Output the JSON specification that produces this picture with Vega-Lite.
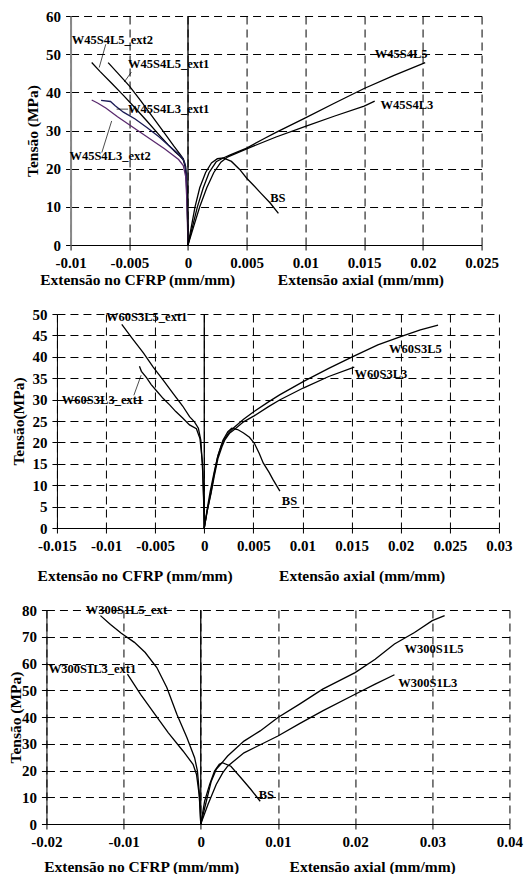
{
"$schema":"https://vega.github.io/schema/vega-lite/v6.json",
"background":"white",
"padding":{"top":9,"left":8,"right":5,"bottom":0},
"spacing":19,
"center":true,
"datasets":{
"curves":[
{"p":1,"s":"W45S4L5_ext2","i":0,"x":-0.0082,"y":47.8},{"p":1,"s":"W45S4L5_ext2","i":1,"x":-0.0075,"y":45.5},{"p":1,"s":"W45S4L5_ext2","i":2,"x":-0.0065,"y":42.4},{"p":1,"s":"W45S4L5_ext2","i":3,"x":-0.0055,"y":39.2},{"p":1,"s":"W45S4L5_ext2","i":4,"x":-0.0045,"y":35.9},{"p":1,"s":"W45S4L5_ext2","i":5,"x":-0.0035,"y":32.5},{"p":1,"s":"W45S4L5_ext2","i":6,"x":-0.0025,"y":29.0},{"p":1,"s":"W45S4L5_ext2","i":7,"x":-0.0017,"y":26.3},{"p":1,"s":"W45S4L5_ext2","i":8,"x":-0.0011,"y":24.4},{"p":1,"s":"W45S4L5_ext2","i":9,"x":-0.0007,"y":23.3},{"p":1,"s":"W45S4L5_ext2","i":10,"x":-0.0004,"y":22.3},{"p":1,"s":"W45S4L5_ext2","i":11,"x":-0.00025,"y":20.6},{"p":1,"s":"W45S4L5_ext2","i":12,"x":-0.00015,"y":17.5},{"p":1,"s":"W45S4L5_ext2","i":13,"x":-0.00008,"y":12},{"p":1,"s":"W45S4L5_ext2","i":14,"x":-0.00003,"y":6},{"p":1,"s":"W45S4L5_ext2","i":15,"x":0,"y":0},
{"p":1,"s":"W45S4L5_ext1","i":0,"x":-0.0068,"y":47.8},{"p":1,"s":"W45S4L5_ext1","i":1,"x":-0.006,"y":45.1},{"p":1,"s":"W45S4L5_ext1","i":2,"x":-0.005,"y":41.7},{"p":1,"s":"W45S4L5_ext1","i":3,"x":-0.004,"y":37.7},{"p":1,"s":"W45S4L5_ext1","i":4,"x":-0.003,"y":33.5},{"p":1,"s":"W45S4L5_ext1","i":5,"x":-0.002,"y":29.3},{"p":1,"s":"W45S4L5_ext1","i":6,"x":-0.0012,"y":25.9},{"p":1,"s":"W45S4L5_ext1","i":7,"x":-0.0007,"y":23.9},{"p":1,"s":"W45S4L5_ext1","i":8,"x":-0.0004,"y":22.6},{"p":1,"s":"W45S4L5_ext1","i":9,"x":-0.0002,"y":20.6},{"p":1,"s":"W45S4L5_ext1","i":10,"x":-0.0001,"y":16},{"p":1,"s":"W45S4L5_ext1","i":11,"x":-0.00004,"y":9},{"p":1,"s":"W45S4L5_ext1","i":12,"x":0,"y":0},
{"p":1,"s":"W45S4L3_ext1","i":0,"x":-0.0074,"y":37.9},{"p":1,"s":"W45S4L3_ext1","i":1,"x":-0.0066,"y":37.6},{"p":1,"s":"W45S4L3_ext1","i":2,"x":-0.0062,"y":36.5},{"p":1,"s":"W45S4L3_ext1","i":3,"x":-0.0055,"y":34.8},{"p":1,"s":"W45S4L3_ext1","i":4,"x":-0.0045,"y":33.0},{"p":1,"s":"W45S4L3_ext1","i":5,"x":-0.0035,"y":30.8},{"p":1,"s":"W45S4L3_ext1","i":6,"x":-0.0025,"y":28.4},{"p":1,"s":"W45S4L3_ext1","i":7,"x":-0.0015,"y":25.7},{"p":1,"s":"W45S4L3_ext1","i":8,"x":-0.0009,"y":24.1},{"p":1,"s":"W45S4L3_ext1","i":9,"x":-0.0005,"y":22.9},{"p":1,"s":"W45S4L3_ext1","i":10,"x":-0.0003,"y":21.7},{"p":1,"s":"W45S4L3_ext1","i":11,"x":-0.00015,"y":19},{"p":1,"s":"W45S4L3_ext1","i":12,"x":-0.00006,"y":12},{"p":1,"s":"W45S4L3_ext1","i":13,"x":0,"y":0},
{"p":1,"s":"W45S4L3_ext2","i":0,"x":-0.0082,"y":38.0},{"p":1,"s":"W45S4L3_ext2","i":1,"x":-0.0077,"y":37.2},{"p":1,"s":"W45S4L3_ext2","i":2,"x":-0.007,"y":35.9},{"p":1,"s":"W45S4L3_ext2","i":3,"x":-0.006,"y":33.6},{"p":1,"s":"W45S4L3_ext2","i":4,"x":-0.005,"y":31.5},{"p":1,"s":"W45S4L3_ext2","i":5,"x":-0.004,"y":29.4},{"p":1,"s":"W45S4L3_ext2","i":6,"x":-0.003,"y":27.3},{"p":1,"s":"W45S4L3_ext2","i":7,"x":-0.002,"y":25.2},{"p":1,"s":"W45S4L3_ext2","i":8,"x":-0.0013,"y":23.6},{"p":1,"s":"W45S4L3_ext2","i":9,"x":-0.0008,"y":22.4},{"p":1,"s":"W45S4L3_ext2","i":10,"x":-0.0004,"y":20.8},{"p":1,"s":"W45S4L3_ext2","i":11,"x":-0.0002,"y":18},{"p":1,"s":"W45S4L3_ext2","i":12,"x":-0.0001,"y":12},{"p":1,"s":"W45S4L3_ext2","i":13,"x":0,"y":0},
{"p":1,"s":"W45S4L5","i":0,"x":0,"y":0},{"p":1,"s":"W45S4L5","i":1,"x":0.0004,"y":5},{"p":1,"s":"W45S4L5","i":2,"x":0.0008,"y":10},{"p":1,"s":"W45S4L5","i":3,"x":0.0013,"y":15},{"p":1,"s":"W45S4L5","i":4,"x":0.0018,"y":19},{"p":1,"s":"W45S4L5","i":5,"x":0.0024,"y":21.8},{"p":1,"s":"W45S4L5","i":6,"x":0.003,"y":22.8},{"p":1,"s":"W45S4L5","i":7,"x":0.0036,"y":23.6},{"p":1,"s":"W45S4L5","i":8,"x":0.005,"y":25.4},{"p":1,"s":"W45S4L5","i":9,"x":0.0065,"y":27.9},{"p":1,"s":"W45S4L5","i":10,"x":0.0075,"y":29.5},{"p":1,"s":"W45S4L5","i":11,"x":0.01,"y":33.3},{"p":1,"s":"W45S4L5","i":12,"x":0.0125,"y":37.2},{"p":1,"s":"W45S4L5","i":13,"x":0.015,"y":41.0},{"p":1,"s":"W45S4L5","i":14,"x":0.0175,"y":44.4},{"p":1,"s":"W45S4L5","i":15,"x":0.0202,"y":47.8},
{"p":1,"s":"W45S4L3","i":0,"x":0,"y":0},{"p":1,"s":"W45S4L3","i":1,"x":0.0005,"y":5},{"p":1,"s":"W45S4L3","i":2,"x":0.001,"y":10},{"p":1,"s":"W45S4L3","i":3,"x":0.0016,"y":15},{"p":1,"s":"W45S4L3","i":4,"x":0.0022,"y":19},{"p":1,"s":"W45S4L3","i":5,"x":0.0028,"y":21.7},{"p":1,"s":"W45S4L3","i":6,"x":0.0034,"y":23.1},{"p":1,"s":"W45S4L3","i":7,"x":0.005,"y":25.2},{"p":1,"s":"W45S4L3","i":8,"x":0.0075,"y":28.3},{"p":1,"s":"W45S4L3","i":9,"x":0.01,"y":31.1},{"p":1,"s":"W45S4L3","i":10,"x":0.0125,"y":33.8},{"p":1,"s":"W45S4L3","i":11,"x":0.015,"y":36.4},{"p":1,"s":"W45S4L3","i":12,"x":0.0159,"y":37.7},
{"p":1,"s":"BS","i":0,"x":0,"y":0},{"p":1,"s":"BS","i":1,"x":0.0003,"y":5},{"p":1,"s":"BS","i":2,"x":0.0006,"y":10},{"p":1,"s":"BS","i":3,"x":0.001,"y":15},{"p":1,"s":"BS","i":4,"x":0.0015,"y":19},{"p":1,"s":"BS","i":5,"x":0.002,"y":21.5},{"p":1,"s":"BS","i":6,"x":0.0025,"y":22.6},{"p":1,"s":"BS","i":7,"x":0.003,"y":22.8},{"p":1,"s":"BS","i":8,"x":0.0037,"y":21.9},{"p":1,"s":"BS","i":9,"x":0.0044,"y":19.8},{"p":1,"s":"BS","i":10,"x":0.005,"y":17.5},{"p":1,"s":"BS","i":11,"x":0.0056,"y":15.6},{"p":1,"s":"BS","i":12,"x":0.0062,"y":13.6},{"p":1,"s":"BS","i":13,"x":0.007,"y":11},{"p":1,"s":"BS","i":14,"x":0.0077,"y":8.3},
{"p":2,"s":"W60S3L5_ext1","i":0,"x":-0.0084,"y":47.6},{"p":2,"s":"W60S3L5_ext1","i":1,"x":-0.0073,"y":44.2},{"p":2,"s":"W60S3L5_ext1","i":2,"x":-0.0062,"y":40.9},{"p":2,"s":"W60S3L5_ext1","i":3,"x":-0.0052,"y":37.6},{"p":2,"s":"W60S3L5_ext1","i":4,"x":-0.0042,"y":34.6},{"p":2,"s":"W60S3L5_ext1","i":5,"x":-0.0032,"y":31.5},{"p":2,"s":"W60S3L5_ext1","i":6,"x":-0.0022,"y":28.5},{"p":2,"s":"W60S3L5_ext1","i":7,"x":-0.0015,"y":26.0},{"p":2,"s":"W60S3L5_ext1","i":8,"x":-0.001,"y":24.8},{"p":2,"s":"W60S3L5_ext1","i":9,"x":-0.0006,"y":23.3},{"p":2,"s":"W60S3L5_ext1","i":10,"x":-0.00035,"y":20.5},{"p":2,"s":"W60S3L5_ext1","i":11,"x":-0.00017,"y":13.5},{"p":2,"s":"W60S3L5_ext1","i":12,"x":-0.00006,"y":6},{"p":2,"s":"W60S3L5_ext1","i":13,"x":0,"y":0},
{"p":2,"s":"W60S3L3_ext1","i":0,"x":-0.0066,"y":37.8},{"p":2,"s":"W60S3L3_ext1","i":1,"x":-0.0064,"y":36.6},{"p":2,"s":"W60S3L3_ext1","i":2,"x":-0.0059,"y":35.2},{"p":2,"s":"W60S3L3_ext1","i":3,"x":-0.0054,"y":33.5},{"p":2,"s":"W60S3L3_ext1","i":4,"x":-0.0048,"y":31.9},{"p":2,"s":"W60S3L3_ext1","i":5,"x":-0.0042,"y":30.3},{"p":2,"s":"W60S3L3_ext1","i":6,"x":-0.0035,"y":28.7},{"p":2,"s":"W60S3L3_ext1","i":7,"x":-0.0029,"y":27.2},{"p":2,"s":"W60S3L3_ext1","i":8,"x":-0.0022,"y":25.7},{"p":2,"s":"W60S3L3_ext1","i":9,"x":-0.0015,"y":24.1},{"p":2,"s":"W60S3L3_ext1","i":10,"x":-0.0008,"y":23.2},{"p":2,"s":"W60S3L3_ext1","i":11,"x":-0.00044,"y":20.9},{"p":2,"s":"W60S3L3_ext1","i":12,"x":-0.00017,"y":15},{"p":2,"s":"W60S3L3_ext1","i":13,"x":-0.00006,"y":7},{"p":2,"s":"W60S3L3_ext1","i":14,"x":0,"y":0},
{"p":2,"s":"W60S3L5","i":0,"x":0,"y":0},{"p":2,"s":"W60S3L5","i":1,"x":0.0003,"y":4},{"p":2,"s":"W60S3L5","i":2,"x":0.00067,"y":8.2},{"p":2,"s":"W60S3L5","i":3,"x":0.001,"y":12.5},{"p":2,"s":"W60S3L5","i":4,"x":0.00133,"y":16.3},{"p":2,"s":"W60S3L5","i":5,"x":0.0017,"y":19},{"p":2,"s":"W60S3L5","i":6,"x":0.002,"y":20.6},{"p":2,"s":"W60S3L5","i":7,"x":0.0025,"y":22.3},{"p":2,"s":"W60S3L5","i":8,"x":0.003,"y":23.4},{"p":2,"s":"W60S3L5","i":9,"x":0.004,"y":25.4},{"p":2,"s":"W60S3L5","i":10,"x":0.00507,"y":27.2},{"p":2,"s":"W60S3L5","i":11,"x":0.0065,"y":29.4},{"p":2,"s":"W60S3L5","i":12,"x":0.00767,"y":31.1},{"p":2,"s":"W60S3L5","i":13,"x":0.01007,"y":34.2},{"p":2,"s":"W60S3L5","i":14,"x":0.01267,"y":37.3},{"p":2,"s":"W60S3L5","i":15,"x":0.01507,"y":40.0},{"p":2,"s":"W60S3L5","i":16,"x":0.01767,"y":42.8},{"p":2,"s":"W60S3L5","i":17,"x":0.02,"y":44.7},{"p":2,"s":"W60S3L5","i":18,"x":0.022,"y":46.3},{"p":2,"s":"W60S3L5","i":19,"x":0.0238,"y":47.4},
{"p":2,"s":"W60S3L3","i":0,"x":0,"y":0},{"p":2,"s":"W60S3L3","i":1,"x":0.0003,"y":4},{"p":2,"s":"W60S3L3","i":2,"x":0.0007,"y":8.2},{"p":2,"s":"W60S3L3","i":3,"x":0.00105,"y":12.5},{"p":2,"s":"W60S3L3","i":4,"x":0.0014,"y":16.3},{"p":2,"s":"W60S3L3","i":5,"x":0.0018,"y":19},{"p":2,"s":"W60S3L3","i":6,"x":0.0021,"y":20.6},{"p":2,"s":"W60S3L3","i":7,"x":0.0026,"y":22.2},{"p":2,"s":"W60S3L3","i":8,"x":0.003,"y":22.9},{"p":2,"s":"W60S3L3","i":9,"x":0.004,"y":24.8},{"p":2,"s":"W60S3L3","i":10,"x":0.00507,"y":26.2},{"p":2,"s":"W60S3L3","i":11,"x":0.0065,"y":28.3},{"p":2,"s":"W60S3L3","i":12,"x":0.00767,"y":29.9},{"p":2,"s":"W60S3L3","i":13,"x":0.01007,"y":32.7},{"p":2,"s":"W60S3L3","i":14,"x":0.01267,"y":35.4},{"p":2,"s":"W60S3L3","i":15,"x":0.01527,"y":37.6},
{"p":2,"s":"BS","i":0,"x":0,"y":0},{"p":2,"s":"BS","i":1,"x":0.0003,"y":4.5},{"p":2,"s":"BS","i":2,"x":0.0006,"y":8.5},{"p":2,"s":"BS","i":3,"x":0.001,"y":13},{"p":2,"s":"BS","i":4,"x":0.0014,"y":17},{"p":2,"s":"BS","i":5,"x":0.0019,"y":20.5},{"p":2,"s":"BS","i":6,"x":0.0024,"y":22.5},{"p":2,"s":"BS","i":7,"x":0.0028,"y":23.3},{"p":2,"s":"BS","i":8,"x":0.0034,"y":23.0},{"p":2,"s":"BS","i":9,"x":0.004,"y":22.2},{"p":2,"s":"BS","i":10,"x":0.0046,"y":21.2},{"p":2,"s":"BS","i":11,"x":0.0051,"y":19.8},{"p":2,"s":"BS","i":12,"x":0.0056,"y":17.4},{"p":2,"s":"BS","i":13,"x":0.006,"y":15.2},{"p":2,"s":"BS","i":14,"x":0.0066,"y":13},{"p":2,"s":"BS","i":15,"x":0.007,"y":11.3},{"p":2,"s":"BS","i":16,"x":0.0077,"y":8.6},
{"p":3,"s":"W300S1L5_ext","i":0,"x":-0.013,"y":77.9},{"p":3,"s":"W300S1L5_ext","i":1,"x":-0.0117,"y":74.6},{"p":3,"s":"W300S1L5_ext","i":2,"x":-0.0103,"y":71.3},{"p":3,"s":"W300S1L5_ext","i":3,"x":-0.0086,"y":67.9},{"p":3,"s":"W300S1L5_ext","i":4,"x":-0.0072,"y":64.1},{"p":3,"s":"W300S1L5_ext","i":5,"x":-0.0057,"y":58.5},{"p":3,"s":"W300S1L5_ext","i":6,"x":-0.0044,"y":51},{"p":3,"s":"W300S1L5_ext","i":7,"x":-0.0031,"y":41},{"p":3,"s":"W300S1L5_ext","i":8,"x":-0.0018,"y":32.3},{"p":3,"s":"W300S1L5_ext","i":9,"x":-0.0008,"y":24.8},{"p":3,"s":"W300S1L5_ext","i":10,"x":-0.00043,"y":19.8},{"p":3,"s":"W300S1L5_ext","i":11,"x":-0.00021,"y":12.3},{"p":3,"s":"W300S1L5_ext","i":12,"x":-0.00008,"y":5},{"p":3,"s":"W300S1L5_ext","i":13,"x":0,"y":0},
{"p":3,"s":"W300S1L3_ext1","i":0,"x":-0.0095,"y":56},{"p":3,"s":"W300S1L3_ext1","i":1,"x":-0.0078,"y":48.5},{"p":3,"s":"W300S1L3_ext1","i":2,"x":-0.0061,"y":41.6},{"p":3,"s":"W300S1L3_ext1","i":3,"x":-0.0042,"y":34.1},{"p":3,"s":"W300S1L3_ext1","i":4,"x":-0.0023,"y":27.3},{"p":3,"s":"W300S1L3_ext1","i":5,"x":-0.001,"y":22.3},{"p":3,"s":"W300S1L3_ext1","i":6,"x":-0.00055,"y":18.5},{"p":3,"s":"W300S1L3_ext1","i":7,"x":-0.00021,"y":11},{"p":3,"s":"W300S1L3_ext1","i":8,"x":-0.00008,"y":5},{"p":3,"s":"W300S1L3_ext1","i":9,"x":0,"y":0},
{"p":3,"s":"W300S1L5","i":0,"x":0,"y":0},{"p":3,"s":"W300S1L5","i":1,"x":0.00072,"y":8.5},{"p":3,"s":"W300S1L5","i":2,"x":0.00136,"y":16},{"p":3,"s":"W300S1L5","i":3,"x":0.002,"y":20.4},{"p":3,"s":"W300S1L5","i":4,"x":0.00263,"y":22.5},{"p":3,"s":"W300S1L5","i":5,"x":0.00348,"y":25.4},{"p":3,"s":"W300S1L5","i":6,"x":0.0056,"y":31},{"p":3,"s":"W300S1L5","i":7,"x":0.0077,"y":34.8},{"p":3,"s":"W300S1L5","i":8,"x":0.01,"y":39.8},{"p":3,"s":"W300S1L5","i":9,"x":0.0128,"y":44.8},{"p":3,"s":"W300S1L5","i":10,"x":0.0158,"y":50.4},{"p":3,"s":"W300S1L5","i":11,"x":0.0179,"y":53.5},{"p":3,"s":"W300S1L5","i":12,"x":0.02,"y":56.6},{"p":3,"s":"W300S1L5","i":13,"x":0.0226,"y":61.6},{"p":3,"s":"W300S1L5","i":14,"x":0.0251,"y":67.3},{"p":3,"s":"W300S1L5","i":15,"x":0.0277,"y":71.6},{"p":3,"s":"W300S1L5","i":16,"x":0.03,"y":76},{"p":3,"s":"W300S1L5","i":17,"x":0.0316,"y":77.9},
{"p":3,"s":"W300S1L3","i":0,"x":0,"y":0},{"p":3,"s":"W300S1L3","i":1,"x":0.00093,"y":7.3},{"p":3,"s":"W300S1L3","i":2,"x":0.002,"y":14.8},{"p":3,"s":"W300S1L3","i":3,"x":0.00284,"y":19.1},{"p":3,"s":"W300S1L3","i":4,"x":0.00348,"y":21.6},{"p":3,"s":"W300S1L3","i":5,"x":0.0056,"y":26.6},{"p":3,"s":"W300S1L3","i":6,"x":0.01,"y":32.9},{"p":3,"s":"W300S1L3","i":7,"x":0.0128,"y":37.5},{"p":3,"s":"W300S1L3","i":8,"x":0.0158,"y":42.3},{"p":3,"s":"W300S1L3","i":9,"x":0.02,"y":48.5},{"p":3,"s":"W300S1L3","i":10,"x":0.0226,"y":52.3},{"p":3,"s":"W300S1L3","i":11,"x":0.0251,"y":55.8},
{"p":3,"s":"BS","i":0,"x":0,"y":0},{"p":3,"s":"BS","i":1,"x":0.0005,"y":8.5},{"p":3,"s":"BS","i":2,"x":0.00115,"y":14.8},{"p":3,"s":"BS","i":3,"x":0.00178,"y":19.8},{"p":3,"s":"BS","i":4,"x":0.0024,"y":22.3},{"p":3,"s":"BS","i":5,"x":0.0028,"y":22.9},{"p":3,"s":"BS","i":6,"x":0.0039,"y":21.6},{"p":3,"s":"BS","i":7,"x":0.0052,"y":17.3},{"p":3,"s":"BS","i":8,"x":0.0065,"y":12.9},{"p":3,"s":"BS","i":9,"x":0.0077,"y":8.5}
],
"labels":[
{"p":1,"t":"W45S4L5_ext2","x":-0.0099,"y":53.7},{"p":1,"t":"W45S4L5_ext1","x":-0.0051,"y":47.5},{"p":1,"t":"W45S4L3_ext1","x":-0.0051,"y":35.6},{"p":1,"t":"W45S4L3_ext2","x":-0.0101,"y":23.4},{"p":1,"t":"W45S4L5","x":0.0159,"y":50},{"p":1,"t":"W45S4L3","x":0.0164,"y":36.6},{"p":1,"t":"BS","x":0.007,"y":12.3},
{"p":2,"t":"W60S3L5_ext1","x":-0.01,"y":49.2},{"p":2,"t":"W60S3L3_ext1","x":-0.0145,"y":29.8},{"p":2,"t":"W60S3L5","x":0.0188,"y":41.8},{"p":2,"t":"W60S3L3","x":0.0153,"y":35.9},{"p":2,"t":"BS","x":0.0079,"y":6.2},
{"p":3,"t":"W300S1L5_ext","x":-0.0149,"y":80},{"p":3,"t":"W300S1L3_ext1","x":-0.0197,"y":57.9},{"p":3,"t":"W300S1L5","x":0.0264,"y":65.4},{"p":3,"t":"W300S1L3","x":0.0256,"y":52.6},{"p":3,"t":"BS","x":0.0075,"y":10.8}
],
"leaders":[
{"p":1,"x":-0.007,"y":52.6,"x2":-0.00756,"y2":46.5},{"p":1,"x":-0.00482,"y":45.3,"x2":-0.00543,"y2":42.7},{"p":1,"x":-0.00608,"y":35.6,"x2":-0.0051,"y2":35.6},{"p":1,"x":-0.00734,"y":24.2,"x2":-0.0065,"y2":32.5},
{"p":2,"x":-0.00717,"y":31,"x2":-0.00643,"y2":35.7}
],
"zero":[
{"p":1,"x":0,"y":0,"y2":60},{"p":2,"x":0,"y":0,"y2":50},{"p":3,"x":0,"y":0,"y2":80}
]
},
"vconcat":[
{
"width":411,"height":229,
"encoding":{
"x":{"field":"x","type":"quantitative","scale":{"domain":[-0.01,0.025],"nice":false,"zero":false},
"axis":{"values":[-0.01,-0.005,0,0.005,0.01,0.015,0.02,0.025],"labelExpr":"datum.value < 0 ? '-' + format(-datum.value, '~g') : format(datum.value, '~g')","title":"Extensão no CFRP (mm/mm)\u00a0\u00a0\u00a0\u00a0\u00a0\u00a0\u00a0\u00a0\u00a0\u00a0\u00a0Extensão axial (mm/mm)","titleX":171,"titleY":34,"titleBaseline":"middle","grid":true}},
"y":{"field":"y","type":"quantitative","scale":{"domain":[0,60],"nice":false},
"axis":{"values":[0,10,20,30,40,50,60],"title":"Tensão (MPa)","titleX":-38,"titleY":114.5,"titleBaseline":"middle","domainColor":"#888","domainWidth":2,"grid":true}}
},
"layer":[
{"data":{"name":"curves"},"transform":[{"filter":"datum.p==1"}],"mark":{"type":"line","strokeWidth":1.3},
"encoding":{"detail":{"field":"s"},"order":{"field":"i"},
"color":{"condition":[{"test":"datum.s=='W45S4L3_ext2'","value":"#5a2a6e"},{"test":"datum.s=='W45S4L3_ext1'","value":"#1a1a55"}],"value":"#000"}}},
{"data":{"name":"zero"},"transform":[{"filter":"datum.p==1"}],"mark":{"type":"rule","color":"#000","strokeWidth":1.3},"encoding":{"y2":{"field":"y2"}}},
{"data":{"name":"leaders"},"transform":[{"filter":"datum.p==1"}],"mark":{"type":"rule","color":"#000","strokeWidth":0.7},"encoding":{"x2":{"field":"x2"},"y2":{"field":"y2"}}},
{"data":{"name":"labels"},"transform":[{"filter":"datum.p==1"}],"mark":{"type":"text","align":"left","baseline":"middle","font":"Liberation Serif","fontWeight":"bold","fontSize":12.5,"color":"#000"},"encoding":{"text":{"field":"t"}}}
]
},
{
"width":442,"height":214,
"encoding":{
"x":{"field":"x","type":"quantitative","scale":{"domain":[-0.015,0.03],"nice":false,"zero":false},
"axis":{"values":[-0.015,-0.01,-0.005,0,0.005,0.01,0.015,0.02,0.025,0.03],"labelExpr":"datum.value < 0 ? '-' + format(-datum.value, '~g') : format(datum.value, '~g')","title":"Extensão no CFRP (mm/mm)\u00a0\u00a0\u00a0\u00a0\u00a0\u00a0\u00a0\u00a0\u00a0\u00a0\u00a0\u00a0Extensão axial (mm/mm)","titleX":184,"titleY":47,"titleBaseline":"middle","grid":true}},
"y":{"field":"y","type":"quantitative","scale":{"domain":[0,50],"nice":false},
"axis":{"values":[0,5,10,15,20,25,30,35,40,45,50],"title":"Tensão(MPa)","titleX":-38,"titleY":107,"titleBaseline":"middle","grid":true}}
},
"layer":[
{"data":{"name":"curves"},"transform":[{"filter":"datum.p==2"}],"mark":{"type":"line","strokeWidth":1.3,"color":"#000"},"encoding":{"detail":{"field":"s"},"order":{"field":"i"}}},
{"data":{"name":"zero"},"transform":[{"filter":"datum.p==2"}],"mark":{"type":"rule","color":"#000","strokeWidth":1.3},"encoding":{"y2":{"field":"y2"}}},
{"data":{"name":"leaders"},"transform":[{"filter":"datum.p==2"}],"mark":{"type":"rule","color":"#000","strokeWidth":0.7},"encoding":{"x2":{"field":"x2"},"y2":{"field":"y2"}}},
{"data":{"name":"labels"},"transform":[{"filter":"datum.p==2"}],"mark":{"type":"text","align":"left","baseline":"middle","font":"Liberation Serif","fontWeight":"bold","fontSize":12.5,"color":"#000"},"encoding":{"text":{"field":"t"}}}
]
},
{
"width":463,"height":214,
"encoding":{
"x":{"field":"x","type":"quantitative","scale":{"domain":[-0.02,0.04],"nice":false,"zero":false},
"axis":{"values":[-0.02,-0.01,0,0.01,0.02,0.03,0.04],"labelExpr":"datum.value < 0 ? '-' + format(-datum.value, '~g') : format(datum.value, '~g')","title":"Extensão no CFRP (mm/mm)\u00a0\u00a0\u00a0\u00a0\u00a0\u00a0\u00a0\u00a0\u00a0\u00a0\u00a0\u00a0\u00a0Extensão axial (mm/mm)","titleX":203,"titleY":42,"titleBaseline":"middle","grid":true}},
"y":{"field":"y","type":"quantitative","scale":{"domain":[0,80],"nice":false},
"axis":{"values":[0,10,20,30,40,50,60,70,80],"title":"Tensão (MPa)","titleX":-31,"titleY":107,"titleBaseline":"middle","grid":true}}
},
"layer":[
{"data":{"name":"curves"},"transform":[{"filter":"datum.p==3"}],"mark":{"type":"line","strokeWidth":1.3,"color":"#000"},"encoding":{"detail":{"field":"s"},"order":{"field":"i"}}},
{"data":{"name":"zero"},"transform":[{"filter":"datum.p==3"}],"mark":{"type":"rule","color":"#000","strokeWidth":1.3},"encoding":{"y2":{"field":"y2"}}},
{"data":{"name":"labels"},"transform":[{"filter":"datum.p==3"}],"mark":{"type":"text","align":"left","baseline":"middle","font":"Liberation Serif","fontWeight":"bold","fontSize":12.5,"color":"#000"},"encoding":{"text":{"field":"t"}}}
]
}
],
"config":{
"font":"Liberation Serif",
"view":{"stroke":null},
"axis":{"labelFont":"Liberation Serif","labelFontWeight":"bold","labelFontSize":15,"labelColor":"#000","titleFont":"Liberation Serif","titleFontWeight":"bold","titleFontSize":15.5,"titleColor":"#000","gridColor":"#000","gridDash":[8,5],"gridWidth":1,"gridOpacity":1,"domainColor":"#000","tickColor":"#000","tickSize":5,"labelPadding":5,"labelFlush":false,"labelOverlap":false,"labelBound":false}
}
}
